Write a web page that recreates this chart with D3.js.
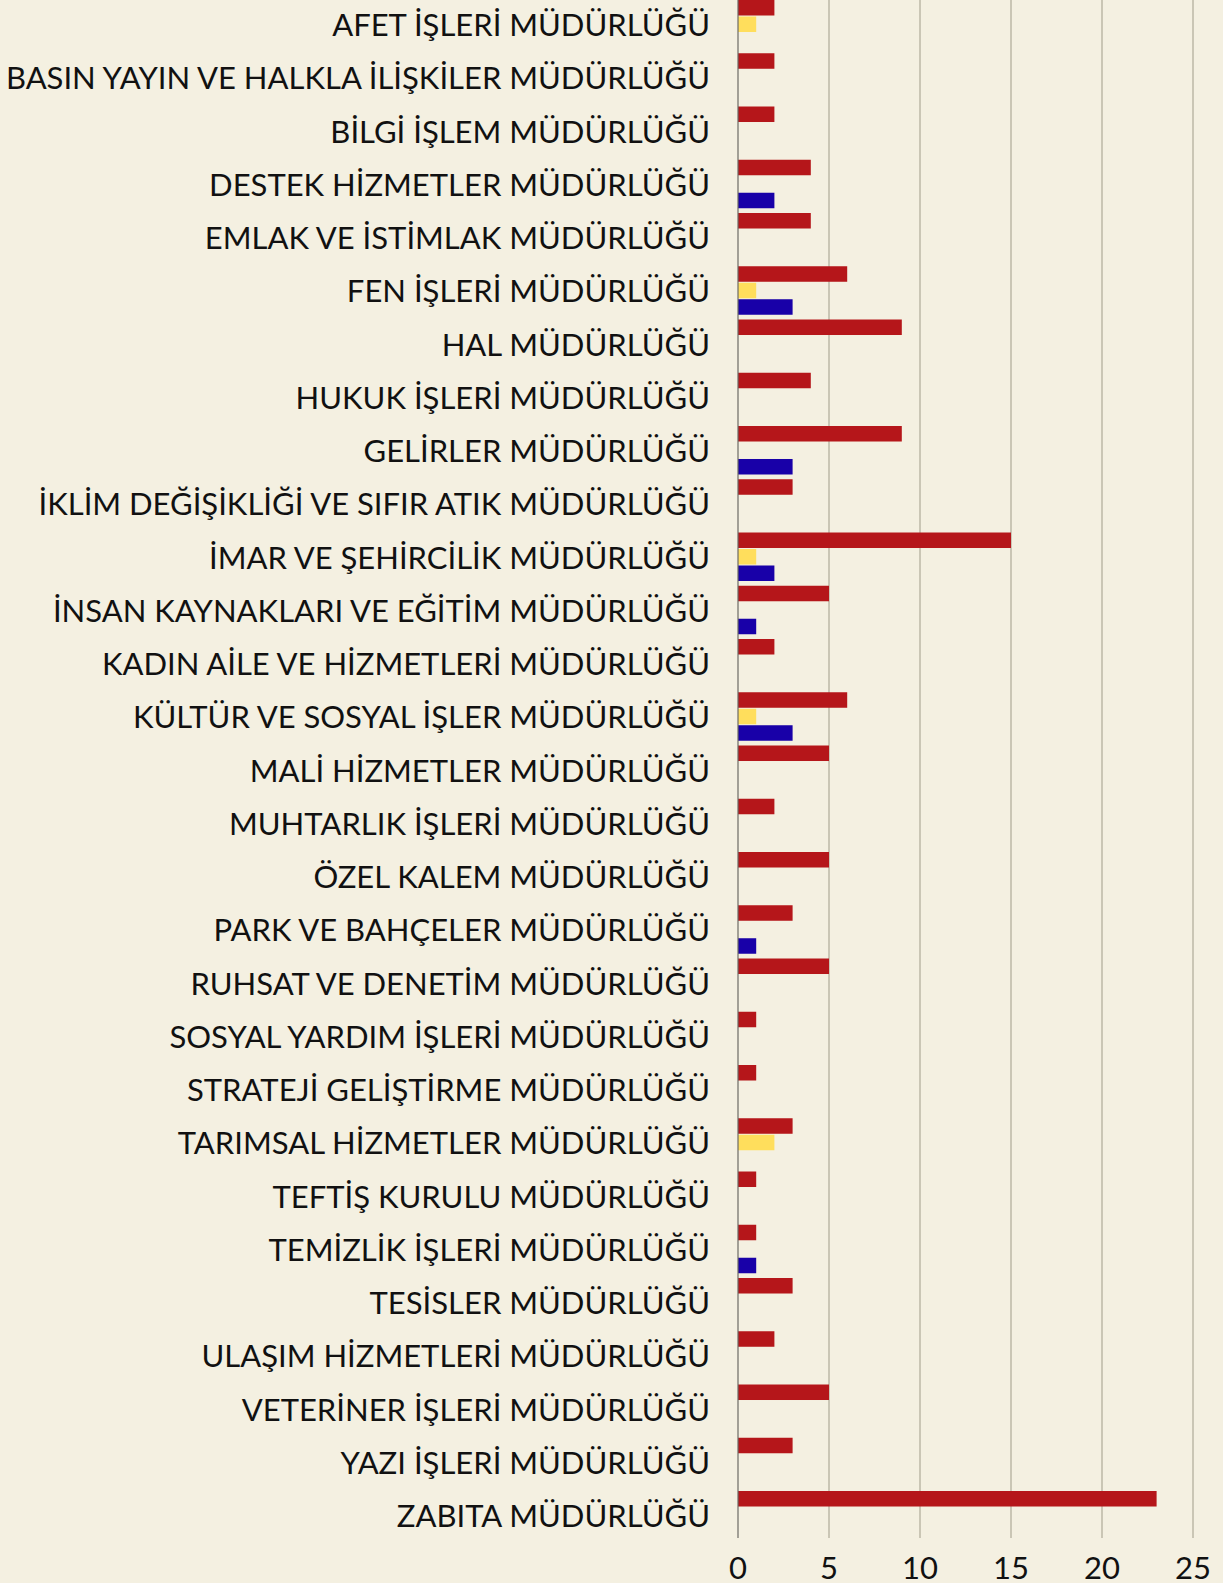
<!DOCTYPE html>
<html>
<head>
<meta charset="utf-8">
<script src="https://cdn.jsdelivr.net/npm/d3@7"></script>
<style>
  body { margin: 0; background: #f4f0e1; }
  svg { display: block; }
  text { font-family: Lato, "Noto Sans", sans-serif; fill: #111; }
</style>
</head>
<body>
<script>
// department names
var categories = [
    "AFET İŞLERİ MÜDÜRLÜĞÜ",
    "BASIN YAYIN VE HALKLA İLİŞKİLER MÜDÜRLÜĞÜ",
    "BİLGİ İŞLEM MÜDÜRLÜĞÜ",
    "DESTEK HİZMETLER MÜDÜRLÜĞÜ",
    "EMLAK VE İSTİMLAK MÜDÜRLÜĞÜ",
    "FEN İŞLERİ MÜDÜRLÜĞÜ",
    "HAL MÜDÜRLÜĞÜ",
    "HUKUK İŞLERİ MÜDÜRLÜĞÜ",
    "GELİRLER MÜDÜRLÜĞÜ",
    "İKLİM DEĞİŞİKLİĞİ VE SIFIR ATIK MÜDÜRLÜĞÜ",
    "İMAR VE ŞEHİRCİLİK MÜDÜRLÜĞÜ",
    "İNSAN KAYNAKLARI VE EĞİTİM MÜDÜRLÜĞÜ",
    "KADIN AİLE VE HİZMETLERİ MÜDÜRLÜĞÜ",
    "KÜLTÜR VE SOSYAL İŞLER MÜDÜRLÜĞÜ",
    "MALİ HİZMETLER MÜDÜRLÜĞÜ",
    "MUHTARLIK İŞLERİ MÜDÜRLÜĞÜ",
    "ÖZEL KALEM MÜDÜRLÜĞÜ",
    "PARK VE BAHÇELER MÜDÜRLÜĞÜ",
    "RUHSAT VE DENETİM MÜDÜRLÜĞÜ",
    "SOSYAL YARDIM İŞLERİ MÜDÜRLÜĞÜ",
    "STRATEJİ GELİŞTİRME MÜDÜRLÜĞÜ",
    "TARIMSAL HİZMETLER MÜDÜRLÜĞÜ",
    "TEFTİŞ KURULU MÜDÜRLÜĞÜ",
    "TEMİZLİK İŞLERİ MÜDÜRLÜĞÜ",
    "TESİSLER MÜDÜRLÜĞÜ",
    "ULAŞIM HİZMETLERİ MÜDÜRLÜĞÜ",
    "VETERİNER İŞLERİ MÜDÜRLÜĞÜ",
    "YAZI İŞLERİ MÜDÜRLÜĞÜ",
    "ZABITA MÜDÜRLÜĞÜ"
];

// three series, same order as categories
var series1 = [2, 2, 2, 4, 4, 6, 9, 4, 9, 3, 15, 5, 2, 6, 5, 2, 5, 3, 5, 1, 1, 3, 1, 1, 3, 2, 5, 3, 23];
var series2 = [1, 0, 0, 0, 0, 1, 0, 0, 0, 0, 1, 0, 0, 1, 0, 0, 0, 0, 0, 0, 0, 2, 0, 0, 0, 0, 0, 0, 0];
var series3 = [0, 0, 0, 2, 0, 3, 0, 0, 3, 0, 2, 1, 0, 3, 0, 0, 0, 1, 0, 0, 0, 0, 0, 1, 0, 0, 0, 0, 0];

var xTicks = [0, 5, 10, 15, 20, 25];

var seriesList = [
    {key: "s1", values: series1, color: "#b5161a"},
    {key: "s2", values: series2, color: "#ffde5c"},
    {key: "s3", values: series3, color: "#1800a8"}
];

var margin = {top: 0, right: 30, bottom: 45, left: 738},
    width = 1223 - margin.left - margin.right,
    height = 1538;

var x = d3.scaleLinear()
    .domain([0, 25])
    .range([0, 455]);

var y = d3.scaleBand()
    .domain(categories)
    .range([0, 29 * 53.25]);

// sub scale for the grouped bars
var y1 = d3.scaleBand()
    .domain(seriesList.map(function(d) { return d.key; }))
    .range([0, 48.5])
    .paddingInner(0.06);

var svg = d3.select("body").append("svg")
    .attr("width", 1223)
    .attr("height", 1583)
    .style("background", "#f4f0e1")
    .append("g")
    .attr("transform", "translate(" + margin.left + "," + margin.top + ")");

// gridlines
svg.selectAll(".grid")
    .data(xTicks.filter(function(d) { return d > 0; }))
    .enter()
    .append("line")
    .attr("x1", function(d) { return x(d); })
    .attr("x2", function(d) { return x(d); })
    .attr("y1", 0)
    .attr("y2", height)
    .attr("stroke", "#bdb8a6")
    .attr("stroke-width", 1.5);

// bars
var rows = svg.selectAll(".row")
    .data(categories)
    .enter()
    .append("g")
    .attr("transform", function(d) { return "translate(0," + y(d) + ")"; });

rows.selectAll("rect")
    .data(function(d, i) {
        return seriesList.map(function(s) { return {key: s.key, value: s.values[i], color: s.color}; })
            .filter(function(s) { return s.value > 0; });
    })
    .enter()
    .append("rect")
    .attr("x", 0)
    .attr("y", function(d) { return y1(d.key); })
    .attr("width", function(d) { return x(d.value); })
    .attr("height", y1.bandwidth())
    .attr("fill", function(d) { return d.color; });

// zero line
svg.append("line")
    .attr("x1", x(0)).attr("x2", x(0))
    .attr("y1", 0).attr("y2", height)
    .attr("stroke", "#6b6a64")
    .attr("stroke-width", 1.2);

// category labels
svg.selectAll(".label")
    .data(categories)
    .enter()
    .append("text")
    .attr("x", -28)
    .attr("y", function(d) { return y(d) + 25; })
    .attr("dy", "0.36em")
    .attr("text-anchor", "end")
    .style("font-size", "31px")
    .text(function(d) { return d; });

// x tick labels
svg.selectAll(".tick-label")
    .data(xTicks)
    .enter()
    .append("text")
    .attr("x", function(d) { return x(d); })
    .attr("y", 1579)
    .attr("text-anchor", "middle")
    .style("font-size", "31px")
    .text(function(d) { return d; });
</script>
</body>
</html>
